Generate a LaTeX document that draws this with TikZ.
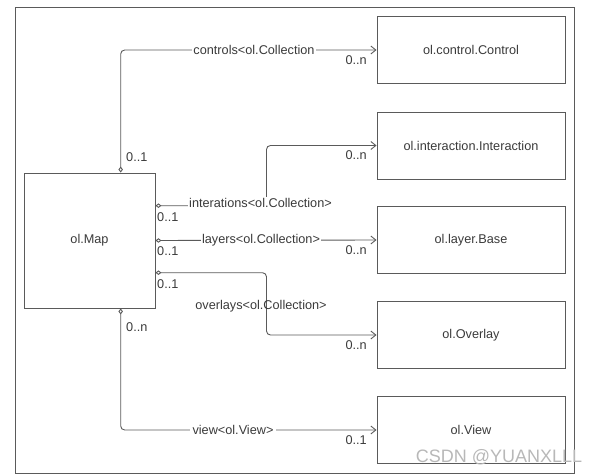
\documentclass[tikz,border=0pt]{standalone}
\usepackage{fontspec}
\setmainfont{Liberation Sans}
\usetikzlibrary{arrows.meta,calc}
\definecolor{ln}{HTML}{5A5A5A}
\definecolor{tx}{HTML}{3A3A3A}
\begin{document}
\begin{tikzpicture}[x=1pt,y=-1pt,
  txt/.style={text=tx,font=\fontsize{12.7}{15}\selectfont},
  box/.style={txt,draw=ln,line width=0.95pt,minimum width=188pt,minimum height=67pt,inner sep=0pt},
  conn/.style={draw=ln,line width=0.9pt,rounded corners=4pt,{Diamond[open,length=6pt,width=4.5pt]}-{Straight Barb[length=5pt,width=8pt]}},
  lbl/.style={txt,inner sep=1pt},
  mult/.style={txt,inner sep=0pt}]
\useasboundingbox (0,0) rectangle (597,476);
\node[draw=ln,line width=0.95pt,minimum width=559pt,minimum height=466pt,inner sep=0pt] (frame) at (294.5,240) {};
% nodes
\node[box,minimum width=131pt,minimum height=135pt] (map) at (89.5,240.5) {ol.Map};
\node[box] (ctrl) at (471,50) {ol.control.Control};
\node[box] (inter) at (471,145.5) {ol.interaction.Interaction};
\node[box] (layer) at (471,240) {ol.layer.Base};
\node[box] (over) at (471,335) {ol.Overlay};
\node[box] (view) at (471,430) {ol.View};
% connectors
\draw[conn] ([xshift=31.2pt]map.north) |- (ctrl.west);
\draw[conn] ([yshift=34.8pt]map.east) -- ++(111,0) |- (inter.west);
\draw[conn] (map.east) -- (layer.west);
\draw[conn] ([yshift=-32.2pt]map.east) -- ++(111,0) |- (over.west);
\draw[conn] ([xshift=31.2pt]map.south) |- (view.west);
% association labels
\node[lbl,fill=white] (lc) at (254,49.5) {controls<ol.Collection};
\node[lbl,fill=white] (li) at (260.5,203) {interations<ol.Collection>};
\node[lbl,fill=white] (ll) at (261,240) {layers<ol.Collection>};
\node[lbl] (lo) at (261,306.5) {overlays<ol.Collection>};
\node[lbl,fill=white,inner xsep=3pt] (lv) at (233,429.5) {view<ol.View>};
% multiplicities
\node[mult,anchor=west] (m1) at (126,157) {0..1};
\node[mult,anchor=west] (m2) at (126,327) {0..n};
\node[mult,anchor=west] (m3) at (157,217) {0..1};
\node[mult,anchor=west] (m4) at (157,251) {0..1};
\node[mult,anchor=west] (m5) at (157,284) {0..1};
\node[mult,anchor=east] (n1) at (367,60) {0..n};
\node[mult,anchor=east] (n2) at (367,155) {0..n};
\node[mult,anchor=east] (n3) at (367,250) {0..n};
\node[mult,anchor=east] (n4) at (367,345.5) {0..n};
\node[mult,anchor=east] (n5) at (367,440) {0..1};
% watermark
\node[text=black!28,font=\fontsize{18}{20}\selectfont,inner sep=0pt] (wm) at (499,457) {CSDN @YUANXLLL};
\end{tikzpicture}
\end{document}
